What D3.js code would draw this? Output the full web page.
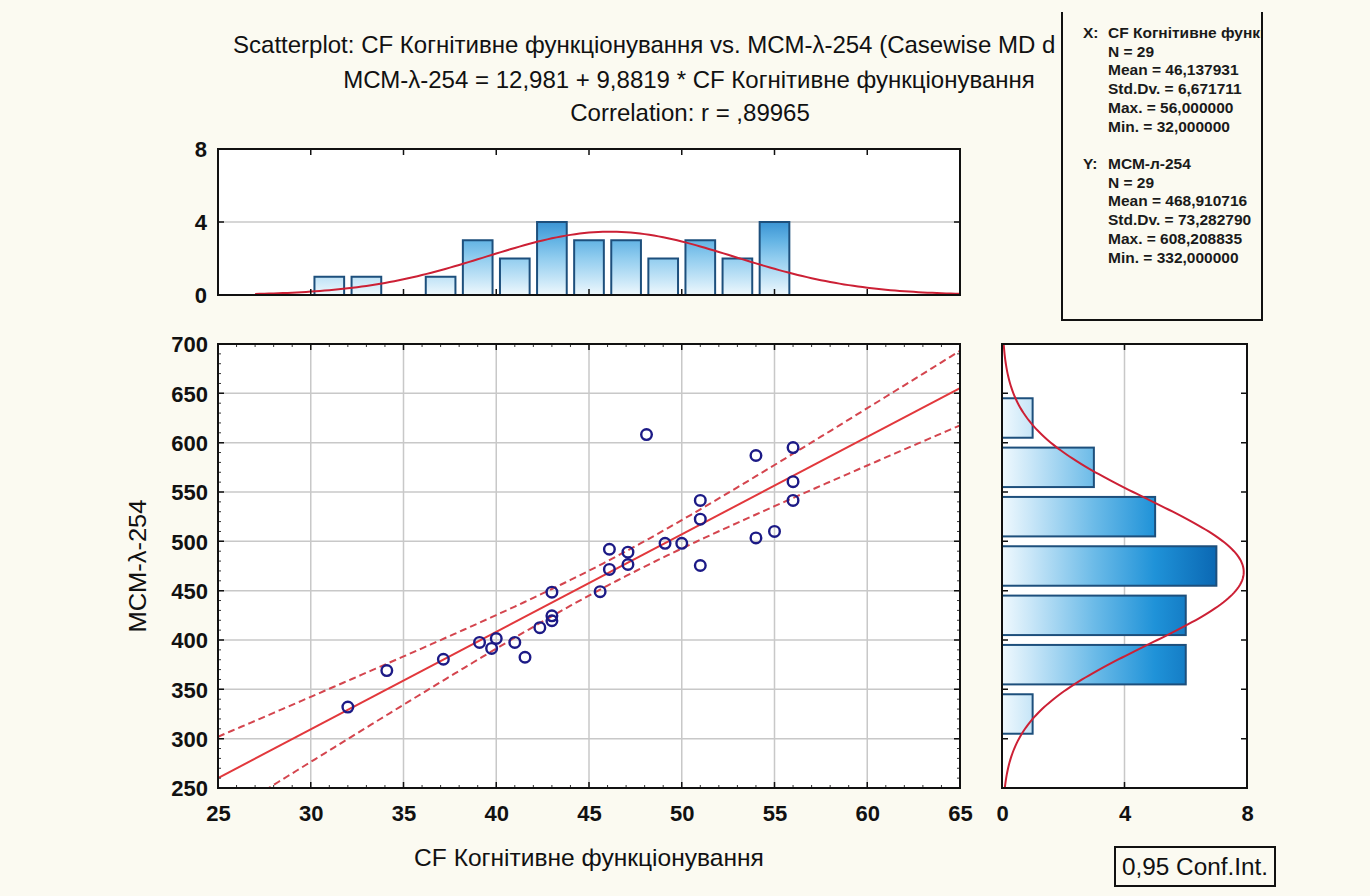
<!DOCTYPE html>
<html><head><meta charset="utf-8">
<script src="https://cdn.jsdelivr.net/npm/d3@7/dist/d3.min.js"></script>
<style>body{margin:0;background:#fbfaf1;} svg{display:block}</style>
</head><body>
<svg id="c" width="1370" height="896"></svg>
<script>
// ---------- data ----------
const cfValues  = [32, 34.1, 37.15, 39.1, 39.75, 40, 41, 41.55, 42.35, 43, 43, 43, 45.6, 46.1, 46.1, 47.1, 47.1, 48.1, 49.1, 50, 51, 51, 51, 54, 54, 55, 56, 56, 56];
const mcmValues = [332, 369, 380.5, 397.5, 391.5, 401.5, 397.5, 382.5, 412.5, 448.5, 424.5, 419.5, 449, 492, 471.5, 489, 476.5, 608.2, 498, 498, 541.5, 522.5, 475.5, 587, 503.5, 510, 595, 560.5, 541.5];
const xTicks = [25, 30, 35, 40, 45, 50, 55, 60, 65];
const yTicks = [250, 300, 350, 400, 450, 500, 550, 600, 650, 700];
const countTicks = [0, 4, 8];
const topBinStarts = [30, 32, 36, 38, 40, 42, 44, 46, 48, 50, 52, 54];
const topBinCounts = [1, 1, 1, 3, 2, 4, 3, 3, 2, 3, 2, 4];
const topBinWidth = 2;
const rightBinStarts = [300, 350, 400, 450, 500, 550, 600];
const rightBinCounts = [1, 6, 6, 7, 5, 3, 1];
const rightBinWidth = 50;
const intercept = 12.981, slope = 9.8819, corr = 0.89965;
const nObs = 29;
const meanX = 46.137931, sdX = 6.671711, maxX = 56, minX = 32;
const meanY = 468.910716, sdY = 73.282790, maxY = 608.208835, minY = 332;
const titleLines = [
  "Scatterplot: CF Когнітивне функціонування vs. МСМ-λ-254 (Casewise MD deletion)",
  "МСМ-λ-254 = 12,981 + 9,8819 * CF Когнітивне функціонування",
  "Correlation: r = ,89965"
];
const statsX = ["X:", "CF Когнітивне функціонування", "N = 29", "Mean = 46,137931", "Std.Dv. = 6,671711", "Max. = 56,000000", "Min. = 32,000000"];
const statsY = ["Y:", "МСМ-л-254", "N = 29", "Mean = 468,910716", "Std.Dv. = 73,282790", "Max. = 608,208835", "Min. = 332,000000"];
const xTitle = "CF Когнітивне функціонування";
const yTitle = "МСМ-λ-254";
const legendText = "0,95 Conf.Int.";

// ---------- setup ----------
const svg = d3.select("#c");
const BG = "#fbfaf1";
const FONT = "'Liberation Sans', Arial, sans-serif";
svg.append("rect").attr("width",1370).attr("height",896).attr("fill",BG);

function condensed(parent, str, px, py, fs, target, anchor, rot, k0, maxRight){
  const g = parent.append("g");
  const t = g.append("text").attr("x",0).attr("y",0).attr("text-anchor",anchor||"start")
    .attr("font-family",FONT).attr("font-size",fs).attr("fill","#111").text(str);
  const k = k0 || target / t.node().getComputedTextLength();
  if (maxRight) { // the stats panel hides the end of the line: keep only what shows
    let s = str;
    while (s.length > 1 && px + k*t.node().getComputedTextLength() > maxRight) { s = s.slice(0,-1); t.text(s); }
  }
  g.attr("transform",`translate(${px},${py}) rotate(${rot||0}) scale(${k},1)`);
  return k;
}

const x = d3.scaleLinear().domain([25,65]).range([218,960]);
const y = d3.scaleLinear().domain([250,700]).range([788,344]);
const cTop = d3.scaleLinear().domain([0,8]).range([295,149]);
const cRight = d3.scaleLinear().domain([0,8]).range([1002,1247]);

const defs = svg.append("defs");
const gTop = defs.append("linearGradient").attr("id","gTop").attr("gradientUnits","userSpaceOnUse")
  .attr("x1",0).attr("x2",0).attr("y1",cTop(0)).attr("y2",cTop(8));
[[0,"#eef8fd"],[0.125,"#bfe2f6"],[0.25,"#92cdef"],[0.375,"#63b3e4"],[0.5,"#3b94d4"],[1,"#0a5aa8"]]
  .forEach(s=>gTop.append("stop").attr("offset",s[0]).attr("stop-color",s[1]));
const gRight = defs.append("linearGradient").attr("id","gRight").attr("gradientUnits","userSpaceOnUse")
  .attr("x1",cRight(0)).attr("x2",cRight(8)).attr("y1",0).attr("y2",0);
[[0,"#f0f9fe"],[0.125,"#c6e5f7"],[0.375,"#6cbbe8"],[0.625,"#1f92d8"],[0.875,"#0b68b3"],[1,"#0555a0"]]
  .forEach(s=>gRight.append("stop").attr("offset",s[0]).attr("stop-color",s[1]));

const pdf = (v,m,s)=>Math.exp(-0.5*((v-m)/s)**2)/(s*Math.sqrt(2*Math.PI));

// ---------- title ----------
defs.append("clipPath").attr("id","titleClip").append("rect").attr("x",0).attr("y",0).attr("width",1061).attr("height",140);
const titleG = svg.append("g").attr("clip-path","url(#titleClip)");
const kT = condensed(titleG, titleLines[1], 689, 88, 24, 692, "middle");
condensed(titleG, titleLines[0], 233, 53, 24, 0, "start", 0, kT, 1066);
condensed(titleG, titleLines[2], 690, 121, 24, 0, "middle", 0, kT);

// ---------- stats box ----------
defs.append("clipPath").attr("id","boxClip").append("rect").attr("x",1062).attr("y",0).attr("width",200).attr("height",320);
const sb = svg.append("g").attr("clip-path","url(#boxClip)").attr("font-family",FONT).attr("font-weight","bold").attr("fill","#1a1a1a");
const sfs = 15.5;
function statBlock(arr, y0){
  sb.append("text").attr("x",1083).attr("y",y0).attr("font-size",sfs).text(arr[0]);
  arr.slice(1).forEach((s,i)=> sb.append("text").attr("x",1108).attr("y",y0+i*18.7).attr("font-size",sfs).text(s));
}
statBlock(statsX, 38);
statBlock(statsY, 169);
svg.append("path").attr("d","M1062,12V320H1262V12").attr("fill","none").attr("stroke","#111").attr("stroke-width",2);

// ---------- top histogram ----------
const topG = svg.append("g");
topG.append("rect").attr("x",218).attr("y",149).attr("width",742).attr("height",146).attr("fill","#fff");
topG.append("line").attr("x1",218).attr("x2",960).attr("y1",cTop(4)).attr("y2",cTop(4)).attr("stroke","#c8c8c8").attr("stroke-width",1.5);
topG.selectAll(".tb").data(topBinStarts).join("rect")
  .attr("x",d=>x(d+0.2)).attr("width",d=>x(d+topBinWidth-0.2)-x(d+0.2))
  .attr("y",(d,i)=>cTop(topBinCounts[i])).attr("height",(d,i)=>cTop(0)-cTop(topBinCounts[i]))
  .attr("fill","url(#gTop)").attr("stroke","#1d4f7c").attr("stroke-width",2);
const topCurve = d3.range(27,65.001,0.25).map(v=>[v, nObs*topBinWidth*pdf(v,meanX,sdX)]);
topG.append("path").datum(topCurve).attr("d",d3.line().x(d=>x(d[0])).y(d=>cTop(d[1])))
  .attr("fill","none").attr("stroke","#cc2035").attr("stroke-width",2);
topG.selectAll(".tt").data(xTicks.slice(1,-1)).join("path")
  .attr("d",d=>`M${x(d)},149v6M${x(d)},295v-6`).attr("stroke","#111").attr("stroke-width",1.5);
topG.selectAll(".tl").data(countTicks).join("path")
  .attr("d",d=>`M218,${cTop(d)}h6M960,${cTop(d)}h-6`).attr("stroke","#111").attr("stroke-width",1.5);
topG.append("rect").attr("x",218).attr("y",149).attr("width",742).attr("height",146).attr("fill","none").attr("stroke","#111").attr("stroke-width",2);
topG.selectAll(".tlab").data(countTicks).join("text").attr("x",207).attr("y",d=>cTop(d)+8)
  .attr("text-anchor","end").attr("font-family",FONT).attr("font-weight","bold").attr("font-size",22).attr("fill","#111").text(d=>d);

// ---------- scatter ----------
const sc = svg.append("g");
sc.append("rect").attr("x",218).attr("y",344).attr("width",742).attr("height",444).attr("fill","#fff");
sc.selectAll(".gx").data(xTicks.slice(1,-1)).join("line").attr("x1",d=>x(d)).attr("x2",d=>x(d)).attr("y1",344).attr("y2",788)
  .attr("stroke","#c8c8c8").attr("stroke-width",1.5);
sc.selectAll(".gy").data(yTicks.slice(1,-1)).join("line").attr("y1",d=>y(d)).attr("y2",d=>y(d)).attr("x1",218).attr("x2",960)
  .attr("stroke","#c8c8c8").attr("stroke-width",1.5);
defs.append("clipPath").attr("id","scClip").append("rect").attr("x",218).attr("y",344).attr("width",742).attr("height",444);
const inner = sc.append("g").attr("clip-path","url(#scClip)");
const Sxx = (nObs-1)*sdX*sdX;
const sRes = sdY*Math.sqrt(1-corr*corr)*Math.sqrt((nObs-1)/(nObs-2));
const tCrit = 2.0518;
const xs = d3.range(25,65.001,0.25);
const band = k => xs.map(v=>[v, intercept+slope*v + k*tCrit*sRes*Math.sqrt(1/nObs+(v-meanX)**2/Sxx)]);
const ln = d3.line().x(d=>x(d[0])).y(d=>y(d[1]));
[1,-1].forEach(k=>inner.append("path").datum(band(k)).attr("d",ln).attr("fill","none")
  .attr("stroke","#d4454e").attr("stroke-width",2).attr("stroke-dasharray","7,4"));
inner.append("path").datum([[25,intercept+slope*25],[65,intercept+slope*65]]).attr("d",ln)
  .attr("fill","none").attr("stroke","#e2383c").attr("stroke-width",2);
inner.selectAll("circle").data(cfValues).join("circle")
  .attr("cx",d=>x(d)).attr("cy",(d,i)=>y(mcmValues[i])).attr("r",5.3)
  .attr("fill","none").attr("stroke","#1c1a86").attr("stroke-width",2.4);
const minorX = d3.range(26,65,1).filter(v=>v%5!==0);
const minorY = d3.range(260,700,10).filter(v=>v%50!==0);
sc.selectAll(".mx").data(minorX).join("path").attr("d",d=>`M${x(d)},344v3M${x(d)},788v-3`).attr("stroke","#333").attr("stroke-width",1);
sc.selectAll(".my").data(minorY).join("path").attr("d",d=>`M218,${y(d)}h3M960,${y(d)}h-3`).attr("stroke","#333").attr("stroke-width",1);
sc.selectAll(".Mx").data(xTicks.slice(1,-1)).join("path").attr("d",d=>`M${x(d)},344v6M${x(d)},788v-6`).attr("stroke","#111").attr("stroke-width",1.5);
sc.selectAll(".My").data(yTicks.slice(1,-1)).join("path").attr("d",d=>`M218,${y(d)}h6M960,${y(d)}h-6`).attr("stroke","#111").attr("stroke-width",1.5);
sc.append("rect").attr("x",218).attr("y",344).attr("width",742).attr("height",444).attr("fill","none").attr("stroke","#111").attr("stroke-width",2);
const ax = sc.append("g").attr("transform","translate(0,788)").call(d3.axisBottom(x).tickValues(xTicks).tickSize(0).tickPadding(17).tickFormat(d3.format("d")));
const ay = sc.append("g").attr("transform","translate(218,0)").call(d3.axisLeft(y).tickValues(yTicks).tickSize(0).tickPadding(10).tickFormat(d3.format("d")));
[ax,ay].forEach(a=>{a.select(".domain").remove(); a.selectAll("text").attr("font-family",FONT).attr("font-weight","bold").attr("font-size",22).attr("fill","#111");});
ay.selectAll("text").attr("dy","0.36em");

// ---------- right histogram ----------
const rh = svg.append("g");
rh.append("rect").attr("x",1002).attr("y",344).attr("width",245).attr("height",444).attr("fill","#fff");
rh.append("line").attr("x1",cRight(4)).attr("x2",cRight(4)).attr("y1",344).attr("y2",788).attr("stroke","#c8c8c8").attr("stroke-width",1.5);
rh.selectAll(".rb").data(rightBinStarts).join("rect")
  .attr("x",cRight(0)).attr("width",(d,i)=>cRight(rightBinCounts[i])-cRight(0))
  .attr("y",d=>y(d+rightBinWidth-5)).attr("height",d=>y(d+5)-y(d+rightBinWidth-5))
  .attr("fill","url(#gRight)").attr("stroke","#1d4f7c").attr("stroke-width",2);
const rCurve = d3.range(250,700.001,2).map(v=>[v, nObs*rightBinWidth*pdf(v,meanY,sdY)]);
rh.append("path").datum(rCurve).attr("d",d3.line().x(d=>cRight(d[1])).y(d=>y(d[0])))
  .attr("fill","none").attr("stroke","#cc2035").attr("stroke-width",2);
rh.selectAll(".ry").data(yTicks.slice(1,-1)).join("path").attr("d",d=>`M1002,${y(d)}h6M1247,${y(d)}h-6`).attr("stroke","#111").attr("stroke-width",1.5);
rh.append("path").attr("d",`M${cRight(4)},344v6M${cRight(4)},788v-6`).attr("stroke","#111").attr("stroke-width",1.5);
rh.append("rect").attr("x",1002).attr("y",344).attr("width",245).attr("height",444).attr("fill","none").attr("stroke","#111").attr("stroke-width",2);
const arx = rh.append("g").attr("transform","translate(0,788)").call(d3.axisBottom(cRight).tickValues(countTicks).tickSize(0).tickPadding(17));
arx.select(".domain").remove();
arx.selectAll("text").attr("font-family",FONT).attr("font-weight","bold").attr("font-size",22).attr("fill","#111");

// ---------- axis titles ----------
condensed(svg, xTitle, 589, 866, 24, 350, "middle");
condensed(svg, yTitle, 146, 566, 24, 133, "middle", -90);

// ---------- legend ----------
svg.append("rect").attr("x",1115).attr("y",847).attr("width",160).attr("height",39).attr("fill",BG).attr("stroke","#111").attr("stroke-width",2);
condensed(svg, legendText, 1195, 875, 24, 146, "middle");
</script>
</body></html>
